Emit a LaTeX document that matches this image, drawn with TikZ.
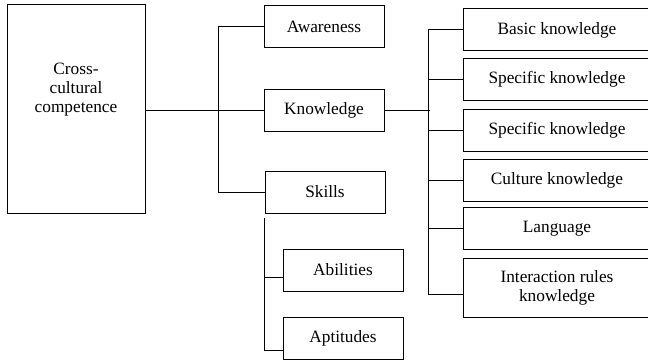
\documentclass[tikz,border=0pt]{standalone}
\usepackage{fontspec}
\setmainfont{Liberation Serif}
\usepackage{tikz}
\usetikzlibrary{positioning}

\tikzset{box/.style={draw, minimum width=120, minimum height=42, inner sep=2pt, align=center}}
\tikzset{rbox/.style={box, minimum width=188}}

\begin{document}
\begin{tikzpicture}[x=1pt,y=-1pt,line width=1pt,font=\fontsize{17.3}{19}\selectfont]
	\useasboundingbox (0,0) rectangle (648,361);
	%main box
	\node[box, minimum width=138, minimum height=208] (ccc) at (76,109) {};
	\node[align=center] (ccclabel) at (76,90) {Cross-\\cultural\\competence};
	
	%first level
	\node[box] (awareness) at (324,26.7) {Awareness};
	\node[box] (knowledge) at (324,110) {Knowledge};
	\node[box] (skills) at (325,192) {Skills};
	
	%skills
	\node[box] (abilities) at (343,270) {Abilities};
	\node[box] (aptitudes) at (343,338.5) {Aptitudes};
	
	%knowledge
	\node[rbox] (basic) at (557,30) {Basic knowledge};
	\node[rbox] (spec1) at (557,79.5) {Specific knowledge};
	\node[rbox] (spec2) at (557,130) {Specific knowledge};
	\node[rbox] (culture) at (557,180) {Culture knowledge};
	\node[rbox] (language) at (557,228.5) {Language};
	\node[rbox, minimum height=59] (interaction) at (557,287.5) {Interaction rules\\knowledge};
	
	%connectors
	\draw (ccc.east |- knowledge.west) -- (knowledge.west);
	\draw (awareness.west) -- ++(-45,0) |- (skills.west);
	\draw ([yshift=-4pt]skills.south west) |- ([yshift=-12pt]aptitudes.west);
	\draw ([yshift=-7pt]abilities.west) -- ++(-19,0);
	\draw (knowledge.east) -- ++(45,0);
	\draw (basic.west) -- ++(-34,0) |- ([yshift=-7pt]interaction.west);
	\foreach \n in {spec1,spec2,culture,language}
		\draw (\n.west) -- ++(-34,0);
\end{tikzpicture}
\end{document}
